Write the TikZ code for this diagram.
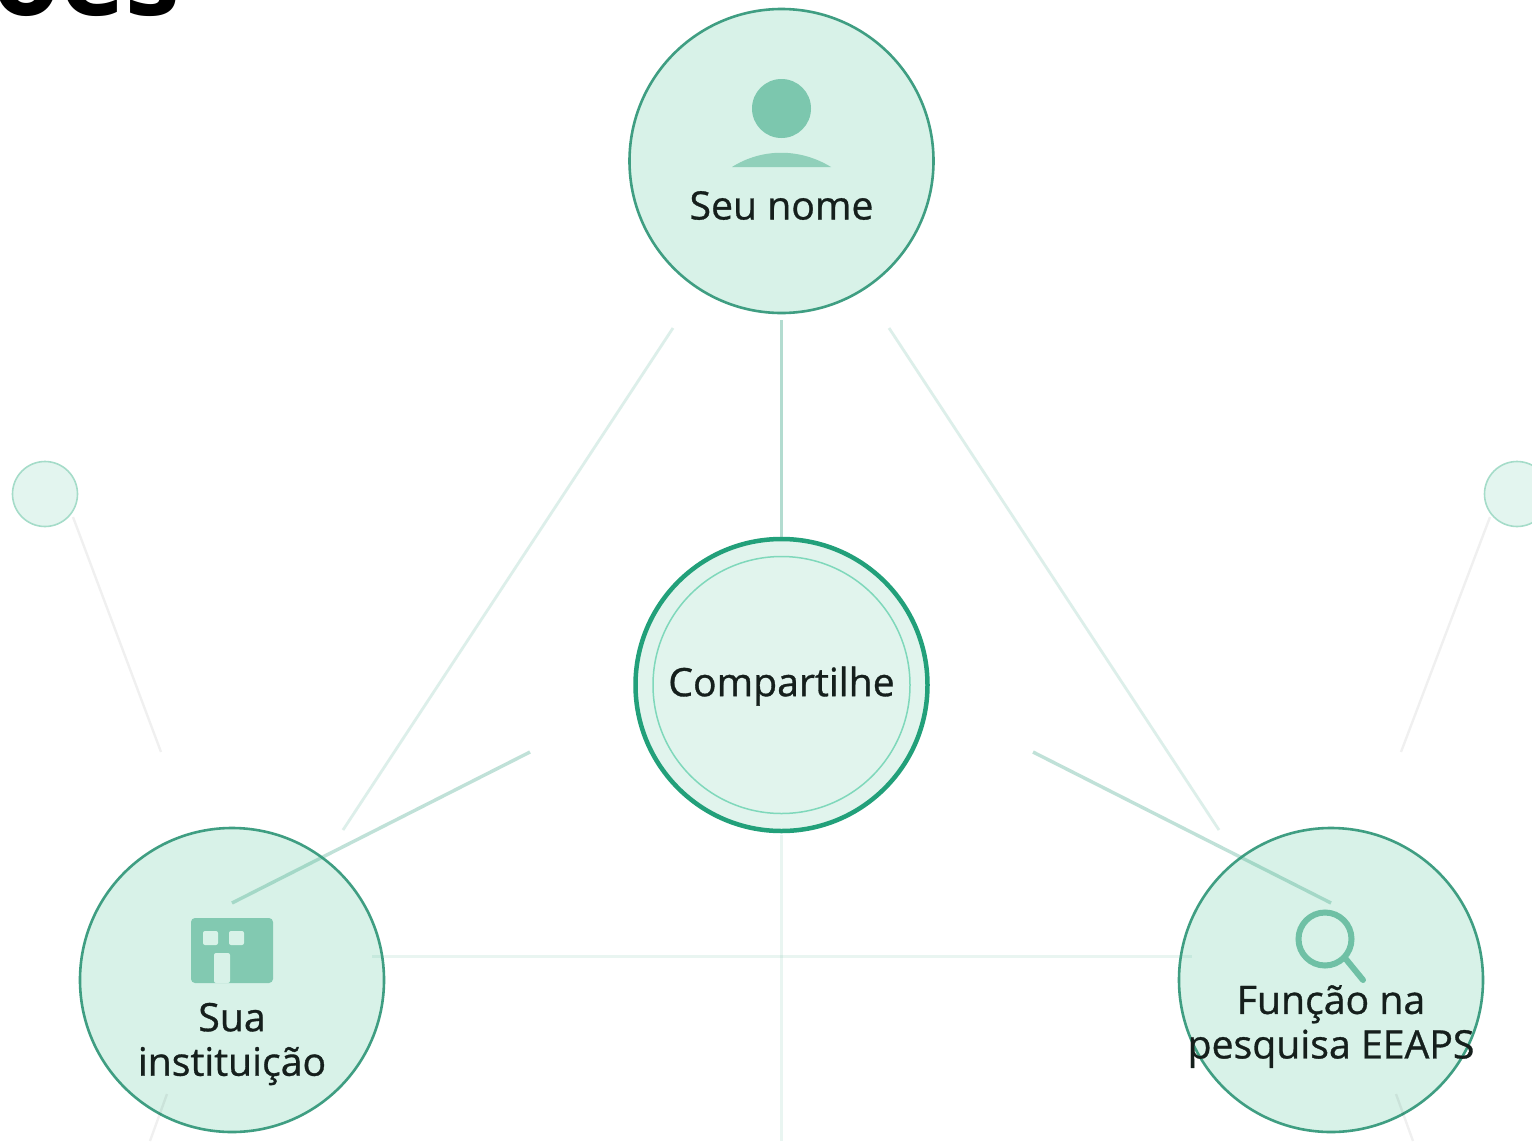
\documentclass[tikz,border=0pt]{standalone}
\usepackage{fontspec}
\setmainfont{Open Sans}
\newfontfamily\labfont[FakeBold=0.8]{Open Sans}
\definecolor{bigfill}{HTML}{D8F2E8}
\definecolor{bigline}{HTML}{3F9E82}
\definecolor{midfill}{HTML}{E1F4ED}
\definecolor{midline}{HTML}{22A07A}
\definecolor{midinner}{HTML}{7FD8BB}
\definecolor{smallfill}{HTML}{E3F5EF}
\definecolor{smallline}{HTML}{A5DCC9}
\definecolor{iconA}{HTML}{7CC7AE}
\definecolor{iconB}{HTML}{90D0BA}
\definecolor{iconC}{HTML}{82C9B1}
\definecolor{iconD}{HTML}{6FC0A5}
\definecolor{linkc}{HTML}{2F9E7E}
\definecolor{ink}{HTML}{151F1C}
\tikzset{
  x=1pt,y=-1pt,
  bigdot/.style={circle,draw=bigline,fill=bigfill,line width=2.6pt,minimum size=304pt,inner sep=0pt},
  middot/.style={circle,draw=midline,fill=midfill,line width=4.5pt,minimum size=292pt,inner sep=0pt},
  innerdot/.style={circle,draw=midinner,line width=1.5pt,minimum size=257pt,inner sep=0pt},
  smalldot/.style={circle,draw=smallline,fill=smallfill,line width=1.6pt,minimum size=65pt,inner sep=0pt},
  labeltext/.style={text=ink,align=center,inner sep=0pt,font=\labfont\fontsize{39.2}{44.5}\selectfont},
  linkstrong/.style={draw=linkc,opacity=.30,line width=3.4pt},
  linkvert/.style={draw=linkc,opacity=.36,line width=3pt},
  linklight/.style={draw=linkc,opacity=.16,line width=2.8pt},
  linkfaint/.style={draw=linkc,opacity=.10,line width=3pt},
  linkghost/.style={draw=black,opacity=.06,line width=2.4pt},
}
\begin{document}
\begin{tikzpicture}
\useasboundingbox (0,0) rectangle (1532,1141);
\clip (0,0) rectangle (1532,1141);
\fill[white] (0,0) rectangle (1532,1141);
% clipped heading
\node[anchor=base west,inner sep=0pt,font=\fontsize{110}{110}\selectfont\bfseries,text=black] (heading) at (-8,15) {ões};
% circles
\node[bigdot] (nome) at (781.5,161) {};
\node[bigdot] (inst) at (232,980) {};
\node[bigdot] (func) at (1331,980) {};
\node[middot] (centro) at (781.5,685) {};
\node[innerdot] (centroin) at (781.5,685) {};
\node[smalldot] (leftdot) at (45,494) {};
\node[smalldot] (rightdot) at (1517,494) {};
% free ends
\coordinate (a1) at (781.5,320);
\coordinate (a2) at (781.5,537);
\coordinate (b1) at (673,328);
\coordinate (b2) at (343,830);
\coordinate (c1) at (889,328);
\coordinate (c2) at (1219,830);
\coordinate (d1) at (530,752);
\coordinate (d2) at (232,903);
\coordinate (e1) at (1033,752);
\coordinate (e2) at (1331,903);
\coordinate (f1) at (372,956);
\coordinate (f2) at (1192,956);
\coordinate (g1) at (781.5,835);
\coordinate (g2) at (781.5,1141);
\coordinate (h1) at (73,517);
\coordinate (h2) at (161,752);
\coordinate (i1) at (1490,517);
\coordinate (i2) at (1401,752);
\coordinate (j1) at (167,1094);
\coordinate (j2) at (150,1141);
\coordinate (k1) at (1396,1094);
\coordinate (k2) at (1413,1141);
% connectors
\draw[linkvert] (a1) -- (a2);
\draw[linklight] (b1) -- (b2);
\draw[linklight] (c1) -- (c2);
\draw[linkstrong] (d1) -- (d2);
\draw[linkstrong] (e1) -- (e2);
\draw[linkfaint] (f1) -- (f2);
\draw[linkfaint] (g1) -- (g2);
\draw[linkghost] (h1) -- (h2);
\draw[linkghost] (i1) -- (i2);
\draw[linkghost] (j1) -- (j2);
\draw[linkghost] (k1) -- (k2);
% person icon
\fill[iconA] (781.5,108.5) circle[radius=29.5];
\fill[iconB] (732,167) .. controls (762,148) and (800,148) .. (831,167) -- cycle;
% building icon
\fill[iconC,rounded corners=4pt] (191,918) rectangle (273,983);
\fill[bigfill,rounded corners=2pt] (203,931) rectangle (218,945);
\fill[bigfill,rounded corners=2pt] (229,931) rectangle (244,945);
\fill[bigfill,rounded corners=2pt] (214,953) rectangle (230,983);
% magnifier icon
\draw[iconD,line width=6pt] (1325,939) circle[radius=26.5];
\draw[iconD,line width=6pt,line cap=round] (1345,958) -- (1363,980);
% labels
\node[labeltext] (nomet) at (781.5,205.5) {Seu nome};
\node[labeltext] (instt) at (232,1044) {Sua\\instituição};
\node[labeltext] (funct) at (1331,1026.5) {Função na\\pesquisa EEAPS};
\node[labeltext] (centrot) at (781.5,686) {Compartilhe};
\end{tikzpicture}
\end{document}
